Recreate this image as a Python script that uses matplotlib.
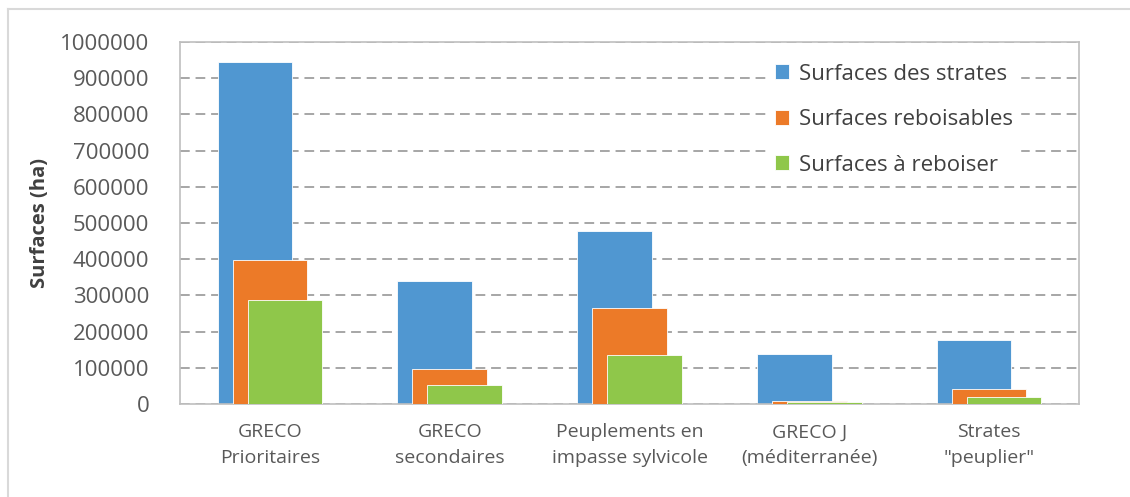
import matplotlib
matplotlib.use("Agg")
import matplotlib.pyplot as plt
import numpy as np
from matplotlib.lines import Line2D

plt.rcParams['font.family'] = ['Open Sans', 'DejaVu Sans']

# data
categories = ['GRECO\nPrioritaires', 'GRECO\nsecondaires', 'Peuplements en\nimpasse sylvicole',
              'GRECO J\n(méditerranée)', 'Strates\n"peuplier"']
strates = [945000, 341000, 479000, 137000, 177000]
reboisables = [397000, 96000, 264000, 9000, 41000]
a_reboiser = [286000, 52000, 135000, 6000, 19000]
series_names = ['Surfaces des strates', 'Surfaces reboisables', 'Surfaces à reboiser']
colors = ['#5097D1', '#EC7A28', '#8FC74A']
yticks = list(range(0, 1000001, 100000))

fig = plt.figure(figsize=(11.3, 4.97), dpi=100)
ax = fig.add_axes([180 / 1130, 1 - 404 / 497, (1079 - 180) / 1130, (404 - 42) / 497])

x = np.arange(len(categories))
w = 0.415
off = 0.083
for i, (vals, name, c) in enumerate(zip([strates, reboisables, a_reboiser], series_names, colors)):
    ax.bar(x + (i - 1) * off, vals, width=w, color=c, edgecolor='white', linewidth=0.6,
           label=name, zorder=2 + i)

ax.set_xlim(-0.5, len(categories) - 0.5)
ax.set_ylim(0, 1000000)
ax.set_yticks(yticks)
ax.set_yticklabels([str(v) for v in yticks])
ax.set_xticks(x)
ax.set_xticklabels(categories, fontsize=14, color='#595959', linespacing=1.55)
ax.tick_params(axis='y', labelsize=16, colors='#595959', length=0, pad=22)
ax.tick_params(axis='x', length=0, pad=14)
ax.yaxis.grid(True, color='#A6A6A6', linewidth=1.4, linestyle=(0, (5, 3)), zorder=0)
ax.set_axisbelow(True)
for s in ax.spines.values():
    s.set_color('#BFBFBF')
    s.set_linewidth(1.2)

ax.set_ylabel('Surfaces (ha)', fontsize=14.5, fontweight='bold', color='#404040', labelpad=7)

leg = ax.legend(loc='upper left', bbox_to_anchor=(768 / 1130, 1 - 57 / 497),
                bbox_transform=fig.transFigure, fontsize=16, frameon=True,
                facecolor='white', edgecolor='white', framealpha=1, fancybox=False,
                handlelength=0.65, handleheight=0.65, handletextpad=0.45,
                labelspacing=1.1, borderpad=0.3, borderaxespad=0)
leg.set_zorder(10)
for t in leg.get_texts():
    t.set_color('#404040')

# outer chart frame
fig.add_artist(Line2D([8 / 1130, 8 / 1130], [0, 1 - 9 / 497], transform=fig.transFigure,
                      color='#D9D9D9', linewidth=1.5))
fig.add_artist(Line2D([8 / 1130, 1], [1 - 9 / 497, 1 - 9 / 497], transform=fig.transFigure,
                      color='#D9D9D9', linewidth=1.5))

fig.savefig('out.png', dpi=100)
